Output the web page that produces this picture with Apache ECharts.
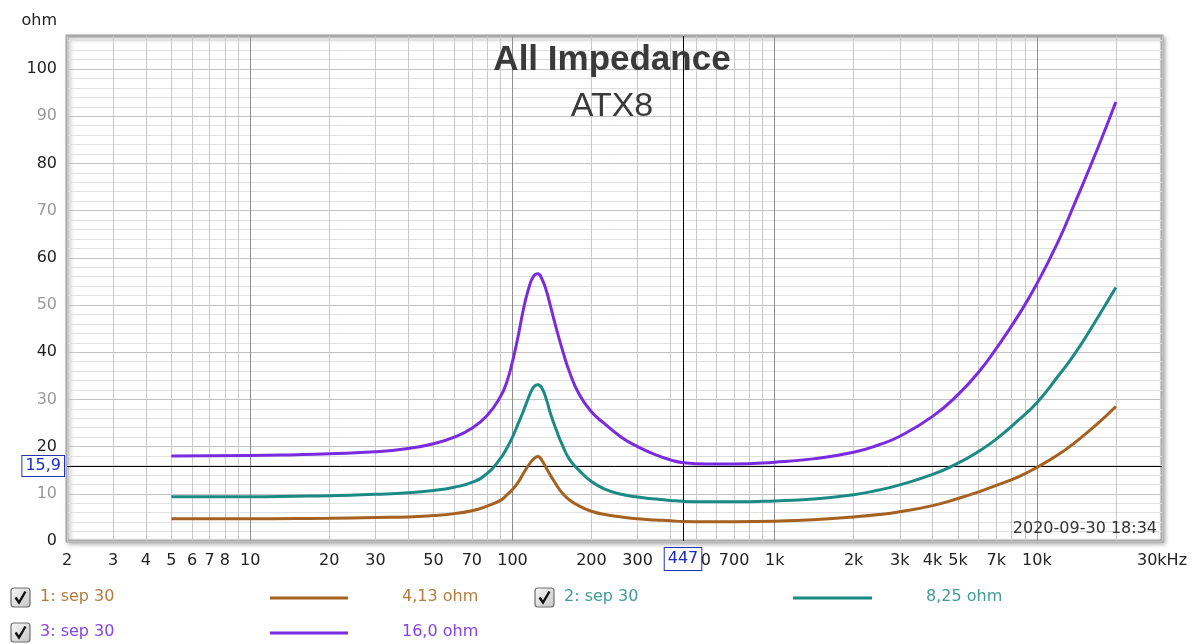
<!DOCTYPE html>
<html><head><meta charset="utf-8">
<script src="https://cdn.jsdelivr.net/npm/echarts@6/dist/echarts.min.js"></script>
<style>html,body{margin:0;padding:0;background:#fff}#c{width:1192px;height:644px}</style>
</head><body><div id="c"></div>
<script>
// ---- data ----
const freqs = [5,10,15,20,30,40,50,60,70,80,90,95,100,105,110,115,120,125,130,135,140,147,155,165,180,200,225,260,300,350,400,447,550,700,1000,1400,2000,2500,3000,4000,5000,6000,7000,8500,10000,12000,14000,17000,20000];
const imp1 = [4.7,4.7,4.75,4.8,5.0, 5.1,5.4,5.8,6.4,7.4, 8.6,9.7,10.9,12.4,14.3, 16.0,17.3,17.9,16.9,15.3, 13.8,11.9,10.1,8.7,7.4, 6.3,5.6,5.1,4.7,4.45, 4.3,4.13,4.1,4.1,4.2, 4.5,5.1,5.6,6.2,7.5, 9.0,10.4,11.8,13.6,15.6, 18.2,20.9,24.8,28.5];
const imp2 = [9.4,9.4,9.5,9.6,9.9, 10.2,10.7,11.4,12.4,14.3, 17.5,19.6,22.0,24.8,27.5, 30.3,32.5,33.1,32.2,29.8, 26.8,23.5,20.3,17.3,14.9, 12.6,11.0,9.9,9.3,8.9, 8.6,8.4,8.3,8.3,8.5, 8.9,9.8,10.8,11.9,14.1, 16.5,19.0,21.6,25.6,29.3, 34.8,39.8,47.2,53.7];
const imp3 = [18.0,18.1,18.3,18.5,18.9, 19.6,20.6,22.0,23.9,26.6, 30.6,33.6,38.0,43.3,49.0, 53.3,56.0,56.6,55.3,52.8, 49.5,45.0,40.5,35.8,31.0, 27.4,24.8,22.0,20.0,18.3, 17.2,16.6,16.3,16.3,16.7, 17.4,18.8,20.4,22.2,26.4, 31.0,35.8,40.8,47.8,54.5, 63.2,71.8,83.0,93.0];
const seriesNames = ['1: sep 30','2: sep 30','3: sep 30'];
const legendValues = ['4,13 ohm','8,25 ohm','16,0 ohm'];
const xTickVals = [2,3,4,5,6,7,8,10,20,30,50,70,100,200,300,500,700,1000,2000,3000,4000,5000,7000,10000,30000];
const xTickLabels = ['2','3','4','5','6','7','8','10','20','30','50','70','100','200','300','500','700','1k','2k','3k','4k','5k','7k','10k','30kHz'];
const xDecades = [10,100,1000,10000];
const yTickVals = [0,10,20,30,40,50,60,70,80,90,100];
const cursorFreq = 447;
const cursorOhm = 15.9;
const cursorFreqLabel = '447';
const cursorOhmLabel = '15,9';
const titleText = 'All Impedance';
const subTitleText = 'ATX8';
const yUnit = 'ohm';
const stampText = '2020-09-30 18:34';

// ---- grid line positions ----
const xMinor = [];
[1,10,100,1000,10000].forEach(d => { for (let m = 2; m <= 9; m++) { const v = m*d; if (v >= 2 && v <= 30000) xMinor.push(v); } });
xMinor.push(30000);
const yMinor = [];
for (let v = 0; v <= 106; v += 2) yMinor.push(v);

const colors = ['#a5611f','#1b8a84','#7a2be0'];
const textColors = ['#b47a3e','#3f9c97','#8545e6'];
const FONT = 'DejaVu Sans';

const chart = echarts.init(document.getElementById('c'), null, {renderer:'canvas'});

function xLabelFmt(v){
  for (let i = 0; i < xTickVals.length; i++) {
    if (Math.abs(Math.log10(v) - Math.log10(xTickVals[i])) < 1e-6) return xTickLabels[i];
  }
  return '';
}

const legendGraphics = [];
const legendPos = [[11,597],[535,597],[11,632]];
const lineSeg = [[270,348],[793,872],[270,348]];
const valX = [402,926,402];
for (let i = 0; i < 3; i++) {
  const [bx, cy] = legendPos[i];
  legendGraphics.push({
    type:'rect', shape:{x:bx, y:cy-9, width:19, height:19, r:3},
    style:{fill:new echarts.graphic.LinearGradient(0,0,1,1,[{offset:0,color:'#fafafa'},{offset:1,color:'#c4c4c4'}]), stroke:'#6e6e6e', lineWidth:1.2}, z:10
  });
  legendGraphics.push({
    type:'polyline', shape:{points:[[bx+4.5,cy+0.5],[bx+8,cy+5.5],[bx+14.5,cy-5.5]]},
    style:{stroke:'#111', lineWidth:2.4, fill:null}, z:11
  });
  legendGraphics.push({
    type:'text', style:{x:bx+29, y:cy, text:seriesNames[i], fill:textColors[i], font:'16px "'+FONT+'"', textVerticalAlign:'middle', textAlign:'left'}, z:10
  });
  legendGraphics.push({
    type:'line', shape:{x1:lineSeg[i][0], y1:cy+1, x2:lineSeg[i][1], y2:cy+1}, style:{stroke:colors[i], lineWidth:3}, z:10
  });
  legendGraphics.push({
    type:'text', style:{x:valX[i], y:cy, text:legendValues[i], fill:textColors[i], font:'16px "'+FONT+'"', textVerticalAlign:'middle', textAlign:'left'}, z:10
  });
}

const labelBox = {color:'#1a2cc0', fontFamily:FONT, fontSize:16, backgroundColor:'#fff', borderColor:'#2233bb', borderWidth:1};

const option = {
  animation:false,
  backgroundColor:'#fff',
  grid:{left:67, right:30, top:36, bottom:103, show:true, backgroundColor:'#fff', borderColor:'#a8a8a8', borderWidth:3,
        shadowColor:'rgba(0,0,0,0.25)', shadowBlur:4, shadowOffsetX:2, shadowOffsetY:2, outerBoundsMode:'none', containLabel:false},
  xAxis:[
    {type:'log', logBase:10, min:2, max:30000, position:'bottom',
     axisLine:{show:false}, axisTick:{show:false, customValues:xMinor}, axisLabel:{show:false},
     splitLine:{show:true, lineStyle:{color:'#c9c9c9', width:1}}},
    {type:'log', logBase:10, min:2, max:30000, position:'bottom',
     axisLine:{show:false}, axisTick:{show:false, customValues:xDecades},
     axisLabel:{show:true, customValues:xTickVals, formatter:xLabelFmt, margin:12, color:'#222', fontFamily:FONT, fontSize:16, showMinLabel:true, showMaxLabel:true, hideOverlap:false},
     splitLine:{show:true, lineStyle:{color:'#8e8e8e', width:1}}}
  ],
  yAxis:[
    {type:'value', min:0, max:107, position:'left',
     axisLine:{show:false}, axisTick:{show:false, customValues:yMinor}, axisLabel:{show:false},
     splitLine:{show:true, lineStyle:{color:'#e0e0e0', width:1}}},
    {type:'value', min:0, max:107, position:'left',
     axisLine:{show:false}, axisTick:{show:false, customValues:yTickVals},
     axisLabel:{show:true, customValues:yTickVals, margin:10, fontFamily:FONT, fontSize:16,
       formatter:function(v){ return ((Math.round(v/10)) % 2 === 0 ? '{d|' : '{g|') + v + '}'; },
       rich:{d:{color:'#1e1e1e', fontFamily:FONT, fontSize:16}, g:{color:'#9a9a9a', fontFamily:FONT, fontSize:16}}},
     splitLine:{show:true, lineStyle:{color:'#c2c2c2', width:1}}}
  ],
  series:[
    {name:seriesNames[0], type:'line', xAxisIndex:0, yAxisIndex:0, data:freqs.map((f,i)=>[f,imp1[i]]),
     showSymbol:false, symbol:'none', smooth:0.5, lineStyle:{color:colors[0], width:3}, itemStyle:{color:colors[0]}, z:3,
     markLine:{silent:true, symbol:['none','none'], z:1, animation:false,
       lineStyle:{color:'#000', width:1, type:'solid'},
       data:[
         {xAxis:cursorFreq, label:Object.assign({show:true, position:'start', distance:7, padding:[3,3,3,3], formatter:cursorFreqLabel}, labelBox)},
         {yAxis:cursorOhm, label:Object.assign({show:true, position:'start', distance:3, padding:[2,3,2,3], formatter:cursorOhmLabel}, labelBox)}
       ]}},
    {name:seriesNames[1], type:'line', xAxisIndex:0, yAxisIndex:0, data:freqs.map((f,i)=>[f,imp2[i]]),
     showSymbol:false, symbol:'none', smooth:0.5, lineStyle:{color:colors[1], width:3}, itemStyle:{color:colors[1]}, z:3},
    {name:seriesNames[2], type:'line', xAxisIndex:0, yAxisIndex:0, data:freqs.map((f,i)=>[f,imp3[i]]),
     showSymbol:false, symbol:'none', smooth:0.5, lineStyle:{color:colors[2], width:3}, itemStyle:{color:colors[2]}, z:3}
  ],
  graphic:[
    {type:'text', style:{x:612, y:60, text:titleText, fill:'#3a3a3a', font:'bold 35px "Liberation Sans"', textAlign:'center', textVerticalAlign:'middle'}, z:20},
    {type:'text', style:{x:612, y:107, text:subTitleText, fill:'#3a3a3a', font:'34px "Liberation Sans"', textAlign:'center', textVerticalAlign:'middle'}, z:20},
    {type:'text', style:{x:57, y:21, text:yUnit, fill:'#222', font:'16px "'+FONT+'"', textAlign:'right', textVerticalAlign:'middle'}, z:20},
    {type:'text', style:{x:1157, y:529, text:stampText, fill:'#333', font:'16px "'+FONT+'"', textAlign:'right', textVerticalAlign:'middle'}, z:20}
  ].concat(legendGraphics)
};
chart.setOption(option);
</script>
</body></html>
